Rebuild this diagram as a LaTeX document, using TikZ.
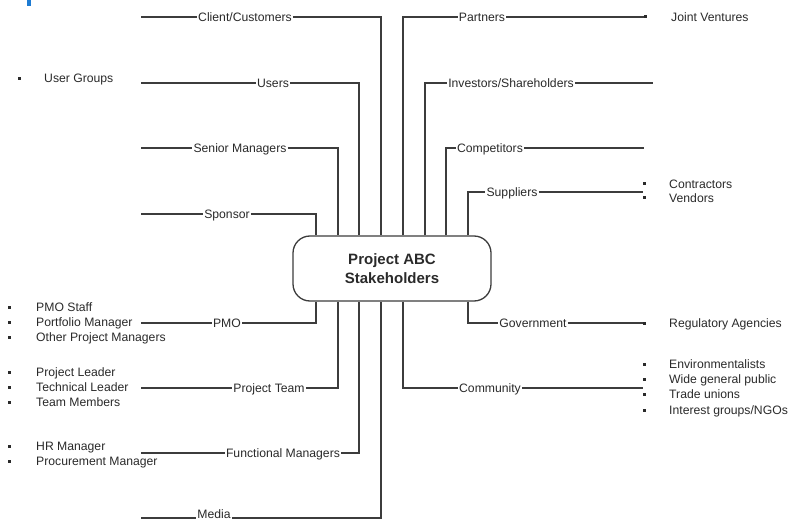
\documentclass[tikz,border=0pt]{standalone}
\usepackage{fontspec}
\setmainfont{Liberation Sans}
\definecolor{ln}{HTML}{3C3C3C}
\definecolor{tx}{HTML}{2A2A2A}
\definecolor{barblue}{HTML}{1E7BD2}
\newcommand\lbranch[7]{%
  \coordinate (#1s) at (#2,#3);
  \node[lab] (#1) at (#4,#3) {#6};
  \coordinate (#1k) at (#5,#3);
  \draw[conn] (#1s) -- (#1.west);
  \draw[conn] (#1.east) -- (#1k) -- (#1k |- hub.#7);}
\newcommand\rbranch[7]{%
  \coordinate (#1k) at (#2,#3);
  \node[lab] (#1) at (#4,#3) {#6};
  \coordinate (#1e) at (#5,#3);
  \draw[conn] (#1k |- hub.#7) -- (#1k) -- (#1.west);
  \draw[conn] (#1.east) -- (#1e);}
\begin{document}
\begin{tikzpicture}[x=1pt,y=-1pt,
  conn/.style={draw=ln,line width=1.3pt},
  lab/.style={fill=white,text=tx,font=\fontsize{12.2}{15}\selectfont,inner xsep=1pt,inner ysep=0pt,text height=8.7pt,text depth=0pt},
  item/.style={anchor=west,text=tx,font=\fontsize{12.2}{15}\selectfont,inner sep=0pt,text height=8.7pt,text depth=0pt},
  bul/.style={fill=tx,inner sep=0pt,minimum size=3pt},
  hub/.style={draw=ln,line width=1.3pt,rounded corners=17pt,minimum width=198pt,minimum height=65pt,font=\fontsize{15}{19}\selectfont\bfseries,text=tx,align=center}]
\useasboundingbox (0,0) rectangle (789,521);
\fill[barblue] (27,0) rectangle (30.7,6.5);
\node[hub] (hub) at (392,268.5) {Project ABC\\Stakeholders};
% left branches
\lbranch{cli}{141}{17}{245}{381}{Client/Customers}{north}
\lbranch{usr}{141}{83}{273}{359}{Users}{north}
\lbranch{snr}{141}{148}{240}{338}{Senior Managers}{north}
\lbranch{spo}{141}{214}{227}{316}{Sponsor}{north}
\lbranch{pmo}{141}{323}{227}{316}{PMO}{south}
\lbranch{ptm}{141}{388}{269}{338}{Project Team}{south}
\lbranch{fun}{141}{453}{283}{359}{Functional Managers}{south}
% Media (label raised slightly so it stays inside the picture)
\coordinate (meds) at (141,518);
\node[lab] (med) at (214,514.5) {Media};
\coordinate (medk) at (381,518);
\draw[conn] (meds) -- (meds -| med.west);
\draw[conn] (medk -| med.east) -- (medk) -- (medk |- hub.south);
% right branches
\rbranch{par}{403}{17}{482}{645}{Partners}{north}
\rbranch{inv}{425}{83}{511}{653}{Investors/Shareholders}{north}
\rbranch{com}{446}{148}{490}{644}{Competitors}{north}
\rbranch{sup}{468}{192}{512}{643}{Suppliers}{north}
\rbranch{gov}{468}{323}{533}{644}{Government}{south}
\rbranch{cmy}{403}{388}{490}{643}{Community}{south}
% left lists
\node[bul] (ugb) at (19,79) {};
\node[item] (ug) at (44,78) {User Groups};
\node[bul] (pm1b) at (9.5,307) {};
\node[item] (pm1) at (36,307) {PMO Staff};
\node[bul] (pm2b) at (9.5,322.5) {};
\node[item] (pm2) at (36,322.5) {Portfolio Manager};
\node[bul] (pm3b) at (9.5,337.5) {};
\node[item] (pm3) at (36,337.5) {Other Project Managers};
\node[bul] (pt1b) at (9.5,372.5) {};
\node[item] (pt1) at (36,372.5) {Project Leader};
\node[bul] (pt2b) at (9.5,387.5) {};
\node[item] (pt2) at (36,387.5) {Technical Leader};
\node[bul] (pt3b) at (9.5,402.5) {};
\node[item] (pt3) at (36,402.5) {Team Members};
\node[bul] (fm1b) at (9.5,446) {};
\node[item] (fm1) at (36,446) {HR Manager};
\node[bul] (fm2b) at (9.5,461) {};
\node[item] (fm2) at (36,461) {Procurement Manager};
% right lists
\node[bul] (jvb) at (645,17) {};
\node[item] (jv) at (671,17) {Joint Ventures};
\node[bul] (s1b) at (644,184) {};
\node[item] (s1) at (669,184) {Contractors};
\node[bul] (s2b) at (644,198) {};
\node[item] (s2) at (669,198) {Vendors};
\node[bul] (g1b) at (644,323) {};
\node[item] (g1) at (669,323) {Regulatory Agencies};
\node[bul] (c1b) at (644,364.5) {};
\node[item] (c1) at (669,364.5) {Environmentalists};
\node[bul] (c2b) at (644,379.5) {};
\node[item] (c2) at (669,379.5) {Wide general public};
\node[bul] (c3b) at (644,394.5) {};
\node[item] (c3) at (669,394.5) {Trade unions};
\node[bul] (c4b) at (644,410) {};
\node[item] (c4) at (669,410) {Interest groups/NGOs};
\end{tikzpicture}
\end{document}
